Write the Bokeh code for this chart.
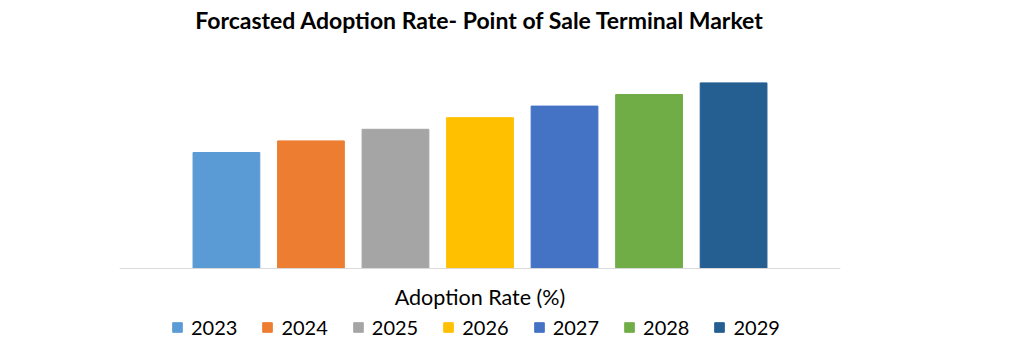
from bokeh.plotting import figure
from bokeh.models import ColumnDataSource, Range1d, Legend, LegendItem, Span, Label
from bokeh.embed import file_html
from bokeh.resources import INLINE

years = [2023, 2024, 2025, 2026, 2027, 2028, 2029]
year_labels = ["2023", "2024", "2025", "2026", "2027", "2028", "2029"]
adoption_rate = [10, 11, 12, 13, 14, 15, 16]
colors = ["#5B9BD5", "#ED7D31", "#A5A5A5", "#FFC000", "#4472C4", "#70AD47", "#255E91"]
axis_title = "Adoption Rate (%)"

src = ColumnDataSource(dict(x=years, top=adoption_rate, label=year_labels, color=colors))

p = figure(frame_width=721, frame_height=309, output_backend="svg", toolbar_location=None,
           x_range=Range1d(years[0] - 1.265, years[-1] + 1.265),
           y_range=Range1d(-6.64, 20),
           min_border_left=119, min_border_right=170, min_border_top=30, min_border_bottom=0,
           title="Forcasted Adoption Rate- Point of Sale Terminal Market")
p.title.align = "center"
p.title.text_font = "Lato"
p.title.text_font_style = "bold"
p.title.text_font_size = "23px"
p.title.text_color = "#000000"
p.title.standoff = 6

r = p.vbar(x="x", top="top", width=0.79, color="color", source=src)

p.outline_line_color = None
p.grid.visible = False
p.xaxis.visible = False
p.yaxis.visible = False

p.add_layout(Span(location=0, dimension="width", line_color="#D9D9D9", line_width=1))
p.add_layout(Label(x=(years[0] + years[-1]) / 2, y=49, y_units="screen", text=axis_title,
                   text_align="center", text_baseline="middle", text_font="Lato",
                   text_font_size="21.5px", text_color="#000000"))

legend = Legend(items=[LegendItem(label=year_labels[i], renderers=[r], index=i) for i in range(len(years))],
                orientation="horizontal", location=(52, 6))
legend.glyph_width = 12
legend.glyph_height = 12
legend.label_text_font = "Lato"
legend.label_text_font_size = "20px"
legend.label_text_color = "#000000"
legend.label_standoff = 8
legend.spacing = 24
legend.padding = 0
legend.margin = 0
legend.border_line_color = None
legend.background_fill_alpha = 0
p.add_layout(legend, "center")

open("out.html", "w").write(file_html(p, INLINE))
